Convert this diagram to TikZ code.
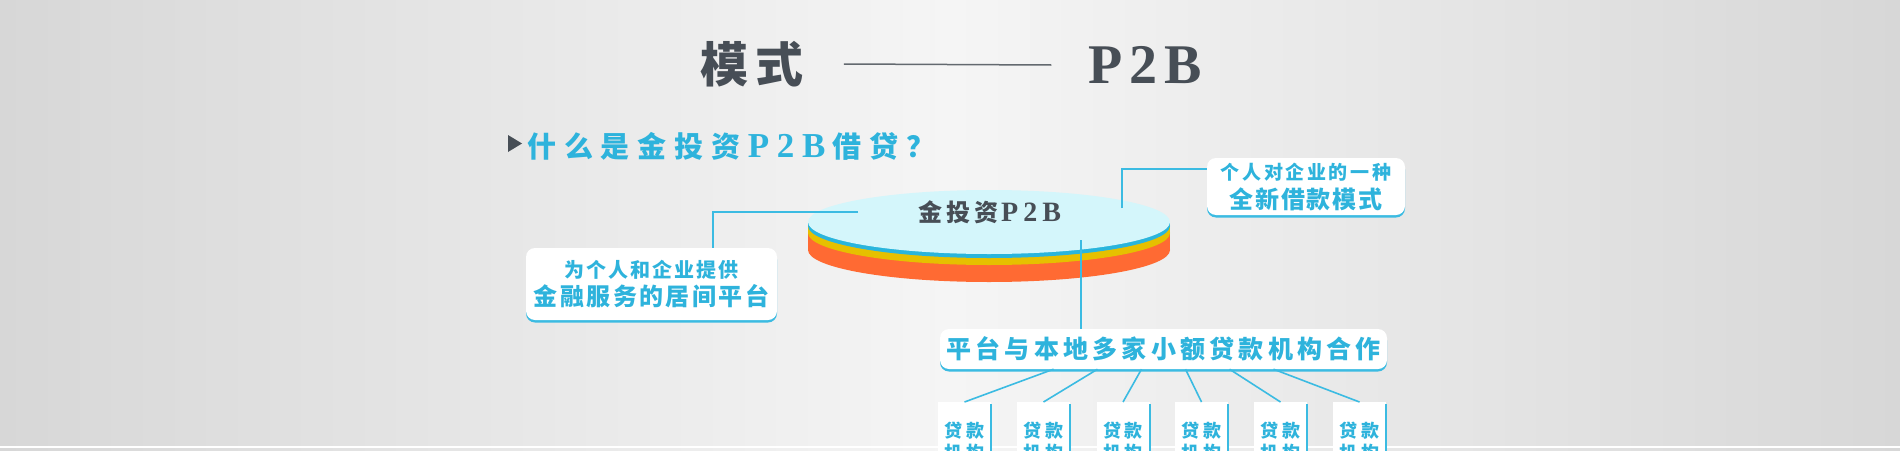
\documentclass[tikz,border=0pt]{standalone}
\usepackage{fontspec}
\setmainfont{Noto Sans CJK SC}
\newfontfamily\lat{Liberation Serif}
\usetikzlibrary{shapes.geometric,shadows}
\definecolor{bgedge}{HTML}{D7D7D7}
\definecolor{bgmid}{HTML}{F5F5F5}
\definecolor{ttl}{HTML}{474E56}
\definecolor{cyt}{HTML}{2EB3DC}
\definecolor{cyl}{HTML}{3BBBE2}
\definecolor{face}{HTML}{D4F6FB}
\definecolor{rim}{HTML}{2AB5DC}
\definecolor{ylw}{HTML}{E6C000}
\definecolor{org}{HTML}{FF6A33}
\newcommand\ls[1]{\addfontfeatures{LetterSpace=#1}}
\begin{document}
\begin{tikzpicture}[x=1pt,y=-1pt,
  cline/.style={draw=cyl, line width=1.6pt},
  cbox/.style={fill=white, rounded corners=9pt, inner sep=0pt,
    general shadow={fill=cyl, shadow yshift=-2.5pt}, align=center, text=cyt},
  smallbox/.style={fill=white, inner sep=0pt, minimum width=53pt, minimum height=78pt,
    anchor=north, align=center, text=cyt,
    font=\bfseries\fontsize{18}{22}\selectfont\ls{18}},
  plain/.style={inner sep=0pt}
]
\useasboundingbox (0,0) rectangle (1900,450);
\clip (0,0) rectangle (1900,450);
\shade[left color=bgedge, right color=bgedge, middle color=bgmid] (0,0) rectangle (1900,450);
\draw[white, line width=1.5pt] (0,447) -- (1900,447);

% title
\node[plain, text=ttl, font=\bfseries\fontsize{48}{50}\selectfont\ls{15}] (t1) at (752,64) {模式};
\node[plain, text=ttl, font=\lat\bfseries\fontsize{56}{60}\selectfont\ls{12}] (t2) at (1145,65) {P2B};
\draw[ttl!85, line width=1.5pt] ([xshift=40pt]t1.east) -- ([xshift=-37pt]t2.west);

% subtitle
\fill[ttl] (508,135) -- (522,143.5) -- (508,152) -- cycle;
\node[plain, anchor=west, text=cyt, font=\bfseries\fontsize{29}{32}\selectfont\ls{27}] (sub) at (527,146)
  {什么是金投资\kern7.5pt{\lat\bfseries\fontsize{35}{36}\selectfont\ls{22}P2B}\kern7.5pt借贷？};

% disc
\fill[org] (808,222) rectangle (1170,250);
\fill[org] (989,250) ellipse [x radius=181, y radius=32];
\fill[ylw] (808,222) rectangle (1170,233);
\fill[ylw] (989,233) ellipse [x radius=181, y radius=32];
\fill[rim] (808,222) rectangle (1170,226);
\fill[rim] (989,226) ellipse [x radius=181, y radius=32];
\node[ellipse, fill=face, minimum width=362pt, minimum height=64pt, inner sep=0pt] (disc) at (989,222) {};
\node[plain, text=ttl, font=\bfseries\fontsize{24}{26}\selectfont\ls{15}] (dt) at (990,212.5)
  {金投资\kern3pt{\lat\bfseries\fontsize{28}{30}\selectfont\ls{18}P2B}};

% boxes
\node[cbox, minimum width=251pt, minimum height=72pt, font=\bfseries\fontsize{24}{28}\selectfont] (lbox) at (651.5,284)
  {{\fontsize{20}{28}\selectfont\ls{10}为个人和企业提供}\\{\ls{10}金融服务的居间平台}};
\node[cbox, minimum width=198pt, minimum height=57pt, font=\bfseries\fontsize{24}{29}\selectfont] (rbox) at (1306,186.5)
  {{\fontsize{19}{29}\selectfont\ls{14}个人对企业的一种}\\{\ls{8}全新借款模式}};
\node[cbox, minimum width=447pt, minimum height=40pt, font=\bfseries\fontsize{25}{28}\selectfont\ls{17}] (mid) at (1163.5,349)
  {平台与本地多家小额贷款机构合作};

% connectors
\draw[cline] ([xshift=-131pt,yshift=10pt]disc.center) -| ([xshift=61.5pt]lbox.north);
\draw[cline] ([xshift=133pt,yshift=14pt]disc.center) |- ([yshift=17.5pt]rbox.west);
\draw[cline] ([xshift=92pt,yshift=-18pt]disc.center) -- ([xshift=-82.5pt]mid.north);

\foreach \i/\x in {1/964.5,2/1043.5,3/1123,4/1201.5,5/1280.5,6/1359.5}{
  \node[smallbox] (b\i) at (\x,402) {贷款\\机构};
  \draw[cline] ([yshift=-2pt]b\i.north east) -- (b\i.south east);
}
\foreach \i/\d in {1/-110,2/-66,3/-22,4/22,5/66,6/110}{
  \draw[cline] ([xshift=\d pt]mid.south) -- (b\i.north);
}
\end{tikzpicture}
\end{document}
